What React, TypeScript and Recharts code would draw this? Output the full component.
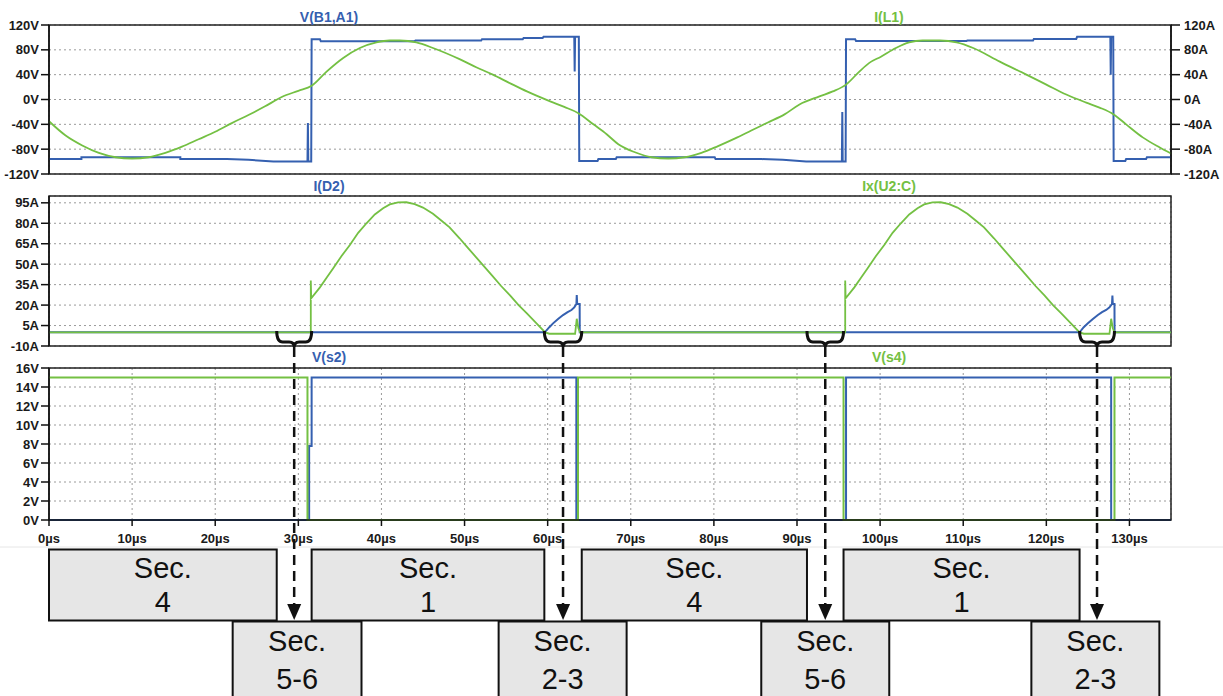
import { LineChart, Line, XAxis, YAxis, CartesianGrid, ReferenceArea } from 'recharts';

type Pt = [number, number];

const FONT = '"Liberation Sans", Arial, sans-serif';
const BLUE = '#3560b0';
const GREEN = '#74c043';

// time axis (µs)
const timeTicks = [0, 10, 20, 30, 40, 50, 60, 70, 80, 90, 100, 110, 120, 130];
const T_MAX = 135;

// y ticks per panel
const vTicks = [-120, -80, -40, 0, 40, 80, 120];
const dTicks = [-10, 5, 20, 35, 50, 65, 80, 95];
const sTicks = [0, 2, 4, 6, 8, 10, 12, 14, 16];

// V(B1,A1) [µs, V]
const vB1A1: Pt[] = [
  [0, -96], [3.9, -96], [3.9, -93], [15.8, -93], [15.8, -96], [21.4, -96], [24, -97], [27, -100],
  [31.1, -100], [31.15, -38], [31.2, -100], [31.55, -100], [31.6, 97], [32.6, 97], [32.7, 94],
  [44, 94], [44.1, 95], [52, 95], [52.1, 97], [57, 97], [57.1, 99], [59.4, 99], [59.5, 101],
  [63.2, 101], [63.25, 45], [63.3, 101], [63.75, 101], [63.8, -99], [66, -99], [66.1, -96],
  [68.2, -96], [68.3, -93], [80.1, -93], [80.2, -96], [85.7, -96], [88.3, -97], [91.1, -100],
  [95.4, -100], [95.45, -20], [95.5, -100], [95.85, -100], [95.9, 97], [97, 97], [97.1, 94.4],
  [110.4, 94.4], [110.5, 95], [118.4, 95], [118.5, 97.6], [123.6, 97.6], [123.7, 101],
  [127.7, 101], [127.75, 40], [127.8, 101], [128.05, 101], [128.1, -99], [129.5, -99],
  [129.6, -96], [132, -96], [132.1, -93], [135, -93],
];

// I(L1) [µs, A]
const iL1: Pt[] = [
  [0, -35], [2, -58], [4, -74], [6, -86], [8, -93], [10, -95], [12, -93], [14, -86], [16, -76],
  [18, -64], [20, -52], [22, -38], [24, -25], [26, -11], [28, 4], [30, 14], [31.6, 22],
  [33.4, 45], [35.4, 67], [37.4, 83], [39.4, 92], [41, 95], [42.2, 95], [44.2, 92], [46.2, 83],
  [49.4, 65], [51.4, 52], [53.4, 40], [55.5, 26], [57.5, 13], [60.3, -3], [62, -12], [63.7, -22],
  [65.5, -40], [67.1, -56], [68.5, -72], [70.5, -85], [72.5, -93], [74.5, -95], [76.5, -93],
  [78.5, -86], [80.5, -75], [82.5, -63], [84.5, -50], [86.5, -37], [88.5, -24], [90.3, -8],
  [92.7, 5], [94.3, 13], [95.9, 24], [97.5, 45], [98.7, 59], [100.1, 69], [101.9, 83],
  [103.5, 92], [105.1, 95], [107.2, 95], [109.2, 92], [111.2, 83], [114.4, 61], [117.6, 40],
  [120, 24], [122.4, 8], [124.8, -5], [126.4, -13], [128.1, -24], [129.6, -40], [131.6, -61],
  [133.6, -77], [135, -87],
];

// I(D2) [µs, A]
const iD2: Pt[] = [
  [0, 0], [59.65, 0], [60.2, 3.8], [60.65, 6.6], [61.25, 9.8], [61.85, 12.7], [62.4, 14.8],
  [62.86, 16.4], [63.2, 18.3], [63.46, 20.8], [63.5, 27.4], [63.55, 20.8], [63.85, 20.8],
  [63.86, 0], [124, 0], [124.5, 3.8], [125, 6.6], [125.6, 9.8], [126.2, 12.7], [126.7, 14.8],
  [127.2, 16.4], [127.6, 18.3], [127.9, 20.8], [127.95, 27], [128, 20.8], [128.2, 20.8],
  [128.21, 0], [135, 0],
];

// Ix(U2:C) [µs, A]
const ixU2C: Pt[] = [
  [0, 0], [31.5, 0], [31.5, 38], [31.55, 25], [32.6, 33], [33.4, 40], [34.2, 47], [35.2, 56],
  [36.2, 64], [37.2, 73], [38.2, 80], [39.2, 86.5], [40.2, 91], [41, 93.8], [42, 95.3],
  [43, 95.4], [44, 94], [45, 91.5], [46.2, 87], [47.2, 82], [48.2, 77], [49.4, 69], [50.4, 62],
  [51.4, 55], [52.4, 48], [53.4, 41], [54.4, 34], [55.5, 27], [56.5, 20], [57.5, 14],
  [58.6, 7], [59.7, 0], [60.2, -1], [63.3, -1], [63.5, 10], [63.7, 3], [63.9, 0],
  [95.8, 0], [95.8, 38], [95.85, 25], [96.9, 33], [97.7, 40], [98.5, 47], [99.5, 56],
  [100.5, 64], [101.5, 73], [102.5, 80], [103.5, 86.5], [104.5, 91], [105.3, 93.8], [106.3, 95.3],
  [107.3, 95.4], [108.3, 94], [109.3, 91.5], [110.5, 87], [111.5, 82], [112.5, 77], [113.7, 69],
  [114.7, 62], [115.7, 55], [116.7, 48], [117.7, 41], [118.7, 34], [119.8, 27], [120.8, 20],
  [121.8, 14], [122.9, 7], [124, 0], [124.5, -1], [127.6, -1], [127.8, 10], [128, 3],
  [128.2, 0], [135, 0],
];

// V(s2) [µs, V]
const vS2: Pt[] = [
  [0, 0], [31.3, 0], [31.3, 7.8], [31.6, 7.8], [31.6, 15], [63.45, 15], [63.45, 0],
  [95.9, 0], [95.9, 15], [127.8, 15], [127.8, 0], [135, 0],
];

// V(s4) [µs, V]
const vS4: Pt[] = [
  [0, 15], [31.1, 15], [31.1, 0], [63.65, 0], [63.65, 15], [95.6, 15], [95.6, 0],
  [128.2, 0], [128.2, 15], [135, 15],
];

// switching intervals marked under the diode/switch currents (µs)
const braceSpans: Pt[] = [[27.4, 31.6], [59.6, 64.1], [91.2, 95.6], [124, 128.2]];
const upperLabels = ['4', '1', '4', '1'];
const upperSpans: Pt[] = [[0, 27.4], [31.6, 59.6], [64.1, 91.2], [95.6, 124]];
const lowerLabels = ['5-6', '2-3', '5-6', '2-3'];
const lowerSpans: Pt[] = [[22.1, 37.6], [54.1, 69.5], [85.7, 101.1], [118.2, 133.6]];

const rows = (pts: Pt[]) => pts.map(([t, v]) => ({ t, v }));

// plot area shared by all three panels
const PLOT_L = 49;
const PLOT_R = 1171;
const tx = (t: number) => PLOT_L + (t / T_MAX) * (PLOT_R - PLOT_L);

const tickStyle = { fill: '#1a1a1a', fontSize: 13, fontWeight: 700, fontFamily: FONT };
const axisStroke = { stroke: '#111', strokeWidth: 1.5 };
const gridProps = { stroke: '#9a9a9a', strokeDasharray: '2 3', strokeWidth: 1 };

function Brace({ x0, x1 }: { x0: number; x1: number }) {
  const m = (x0 + x1) / 2;
  const top = 331;
  const mid = 342;
  const tip = 347;
  const d = `M ${x0} ${top} Q ${x0} ${mid} ${x0 + 6} ${mid} L ${m - 5} ${mid} Q ${m} ${mid} ${m} ${tip} Q ${m} ${mid} ${m + 5} ${mid} L ${x1 - 6} ${mid} Q ${x1} ${mid} ${x1} ${top}`;
  return <path d={d} fill="none" stroke="#111" strokeWidth={3} />;
}

function SecBox({ x0, x1, y, h, label, base1, base2 }: { x0: number; x1: number; y: number; h: number; label: string; base1: number; base2: number }) {
  const c = (x0 + x1) / 2;
  return (
    <g>
      <rect x={x0} y={y} width={x1 - x0} height={h} fill="#e6e6e6" stroke="#111" strokeWidth={2} />
      <text x={c} y={base1} textAnchor="middle" fontFamily={FONT} fontSize={29} fill="#111">Sec.</text>
      <text x={c} y={base2} textAnchor="middle" fontFamily={FONT} fontSize={29} fill="#111">{label}</text>
    </g>
  );
}

export default function App() {
  return (
    <div style={{ position: 'absolute', left: 0, top: 0, width: 1223, height: 696, background: '#fff', overflow: 'hidden' }}>
      {/* V(B1,A1) and I(L1) */}
      <div style={{ position: 'absolute', left: 0, top: 0 }}>
        <LineChart width={1223} height={182} margin={{ top: 25, right: 0, bottom: 8, left: 0 }}>
          <CartesianGrid yAxisId="v" {...gridProps} />
          <XAxis dataKey="t" type="number" domain={[0, T_MAX]} ticks={timeTicks} interval={0} height={0} tick={false} axisLine={false} tickLine={false} />
          <YAxis yAxisId="v" domain={[-120, 120]} ticks={vTicks} interval={0} width={49} tickFormatter={(v) => `${v}V`} tick={tickStyle} tickSize={8} tickMargin={2} axisLine={axisStroke} tickLine={axisStroke} />
          <YAxis yAxisId="a" orientation="right" domain={[-120, 120]} ticks={vTicks} interval={0} width={52} tickFormatter={(v) => `${v}A`} tick={tickStyle} tickSize={9} tickMargin={4} axisLine={axisStroke} tickLine={axisStroke} />
          <ReferenceArea yAxisId="v" x1={0} x2={T_MAX} y1={-120} y2={120} fill="none" stroke="#222" strokeWidth={1.5} />
          <Line yAxisId="v" data={rows(vB1A1)} dataKey="v" type="linear" stroke={BLUE} strokeWidth={2} dot={false} isAnimationActive={false} />
          <Line yAxisId="a" data={rows(iL1)} dataKey="v" type="monotone" stroke={GREEN} strokeWidth={1.8} dot={false} isAnimationActive={false} />
        </LineChart>
      </div>

      {/* I(D2) and Ix(U2:C) */}
      <div style={{ position: 'absolute', left: 0, top: 182 }}>
        <LineChart width={1223} height={172} margin={{ top: 14, right: 52, bottom: 8, left: 0 }}>
          <CartesianGrid {...gridProps} />
          <XAxis dataKey="t" type="number" domain={[0, T_MAX]} ticks={timeTicks} interval={0} height={0} tick={false} axisLine={false} tickLine={false} />
          <YAxis domain={[-10, 100]} ticks={dTicks} interval={0} width={49} tickFormatter={(v) => `${v}A`} tick={tickStyle} tickSize={8} tickMargin={2} axisLine={axisStroke} tickLine={axisStroke} />
          <ReferenceArea x1={0} x2={T_MAX} y1={-10} y2={100} fill="none" stroke="#222" strokeWidth={1.5} />
          <Line data={rows(iD2)} dataKey="v" type="linear" stroke={BLUE} strokeWidth={2} dot={false} isAnimationActive={false} />
          <Line data={rows(ixU2C)} dataKey="v" type="linear" stroke={GREEN} strokeWidth={1.8} dot={false} isAnimationActive={false} />
        </LineChart>
      </div>

      {/* V(s2) and V(s4) */}
      <div style={{ position: 'absolute', left: 0, top: 354 }}>
        <LineChart width={1223} height={196} margin={{ top: 14, right: 52, bottom: 0, left: 0 }}>
          <CartesianGrid {...gridProps} />
          <XAxis dataKey="t" type="number" domain={[0, T_MAX]} ticks={timeTicks} interval={0} height={30} tickFormatter={(v) => `${v}µs`} tick={tickStyle} tickSize={6} tickMargin={8} axisLine={axisStroke} tickLine={axisStroke} />
          <YAxis domain={[0, 16]} ticks={sTicks} interval={0} width={49} tickFormatter={(v) => `${v}V`} tick={tickStyle} tickSize={8} tickMargin={2} axisLine={axisStroke} tickLine={axisStroke} />
          <ReferenceArea x1={0} x2={T_MAX} y1={0} y2={16} fill="none" stroke="#222" strokeWidth={1.5} />
          <Line data={rows(vS2)} dataKey="v" type="linear" stroke={BLUE} strokeWidth={2} dot={false} isAnimationActive={false} />
          <Line data={rows(vS4)} dataKey="v" type="linear" stroke={GREEN} strokeWidth={2} dot={false} isAnimationActive={false} />
        </LineChart>
      </div>

      {/* trace names, switching braces and section boxes */}
      <svg width={1223} height={696} style={{ position: 'absolute', left: 0, top: 0, pointerEvents: 'none' }}>
        <g fontFamily={FONT} fontSize={14} fontWeight={700} textAnchor="middle">
          <text x={329} y={22} fill={BLUE}>V(B1,A1)</text>
          <text x={889} y={22} fill={GREEN}>I(L1)</text>
          <text x={329} y={191} fill={BLUE}>I(D2)</text>
          <text x={889} y={191} fill={GREEN}>Ix(U2:C)</text>
          <text x={329} y={362} fill={BLUE}>V(s2)</text>
          <text x={889} y={362} fill={GREEN}>V(s4)</text>
        </g>
        <line x1={0} x2={1223} y1={547} y2={547} stroke="#e6e6e6" strokeWidth={1} />
        {upperSpans.map(([a, b], i) => (
          <SecBox key={`u${i}`} x0={tx(a)} x1={tx(b)} y={549.5} h={71} label={upperLabels[i]} base1={578} base2={612} />
        ))}
        {lowerSpans.map(([a, b], i) => (
          <SecBox key={`l${i}`} x0={tx(a)} x1={tx(b)} y={621.5} h={90} label={lowerLabels[i]} base1={651} base2={689} />
        ))}
        {braceSpans.map(([a, b], i) => {
          const x0 = tx(a);
          const x1 = tx(b);
          const m = (x0 + x1) / 2;
          return (
            <g key={`b${i}`}>
              <Brace x0={x0} x1={x1} />
              <line x1={m} x2={m} y1={347} y2={604} stroke="#111" strokeWidth={2.5} strokeDasharray="10 6" />
              <polygon points={`${m - 7},${604} ${m + 7},${604} ${m},${620}`} fill="#111" />
            </g>
          );
        })}
      </svg>
    </div>
  );
}
